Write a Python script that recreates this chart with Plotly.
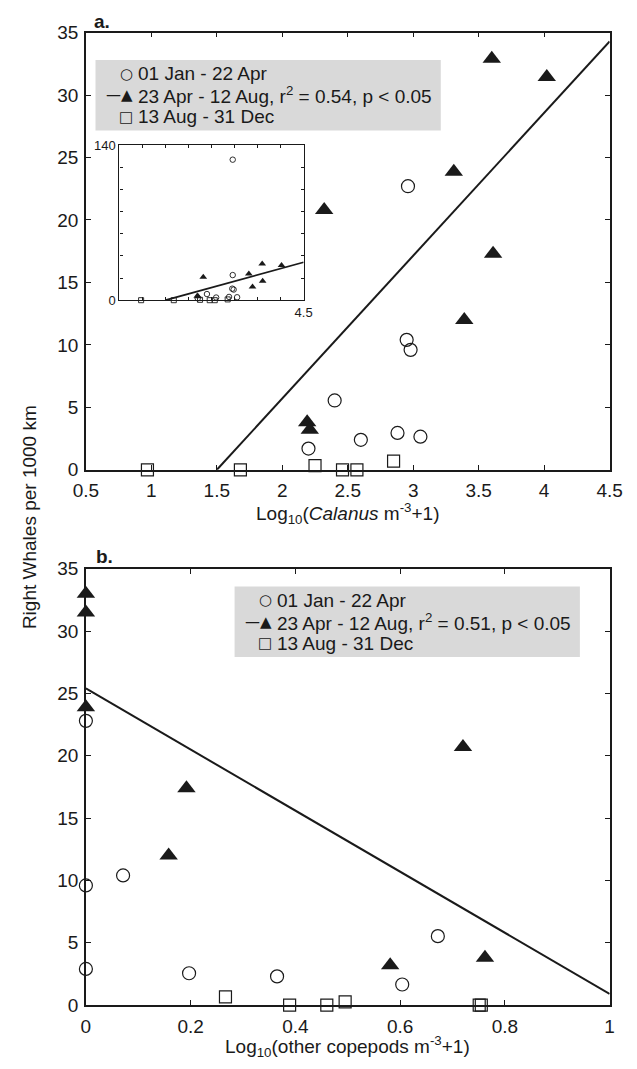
import plotly.graph_objects as go

W, H = 637, 1069

# ---------------- data: panel a (Calanus) ----------------
a_circ_x = [2.96, 2.95, 2.98, 2.40, 2.20, 2.60, 2.88, 3.055]
a_circ_y = [22.7, 10.4, 9.6, 5.55, 1.7, 2.4, 2.95, 2.65]
a_tri_x = [3.60, 4.02, 3.31, 2.32, 3.61, 3.39, 2.19, 2.21]
a_tri_y = [32.9, 31.45, 23.85, 20.8, 17.3, 12.0, 3.8, 3.2]
a_sq_x = [0.97, 1.68, 2.25, 2.46, 2.57, 2.85]
a_sq_y = [0.0, 0.0, 0.34, 0.0, 0.0, 0.7]
a_slope, a_intercept = 11.43, -17.15

# inset includes an off-scale circle
inset_extra_x = [2.96]
inset_extra_y = [127]

# ---------------- data: panel b (other copepods) ----------------
b_circ_x = [0.0, 0.071, 0.0, 0.672, 0.0, 0.197, 0.365, 0.604]
b_circ_y = [22.8, 10.4, 9.6, 5.53, 2.9, 2.55, 2.3, 1.65]
b_tri_x = [0.0, 0.0, 0.0, 0.72, 0.192, 0.158, 0.581, 0.762]
b_tri_y = [33.0, 31.5, 23.9, 20.7, 17.4, 12.0, 3.2, 3.8]
b_sq_x = [0.2665, 0.389, 0.46, 0.495, 0.751, 0.755]
b_sq_y = [0.66, 0.0, 0.0, 0.26, 0.0, 0.0]
b_slope, b_intercept = -24.5, 25.4

a_xticks = [0.5, 1, 1.5, 2, 2.5, 3, 3.5, 4, 4.5]
a_xticklabels = ["0.5", "1", "1.5", "2", "2.5", "3", "3.5", "4", "4.5"]
b_xticks = [0, 0.2, 0.4, 0.6, 0.8, 1]
b_xticklabels = ["0", "0.2", "0.4", "0.6", "0.8", "1"]
y_ticks = [0, 5, 10, 15, 20, 25, 30, 35]
inset_yticks = [0, 20, 40, 60, 80, 100, 120, 140]
inset_yticklabels = ["0", "", "", "", "", "", "", "140"]
inset_xticklabels = ["", "", "", "", "", "", "", "", "4.5"]

legend_a = ["01 Jan - 22 Apr", "23 Apr - 12 Aug, r<sup>2</sup> = 0.54, p < 0.05", "13 Aug - 31 Dec"]
legend_b = ["01 Jan - 22 Apr", "23 Apr - 12 Aug, r<sup>2</sup> = 0.51, p < 0.05", "13 Aug - 31 Dec"]
legend_sym = ["○", "—▲", "□"]

FONT = "Liberation Sans, Arial, sans-serif"
INK = "#1a1a1a"
FS = 19

def px(x):
    return x / W

def py(y):
    return 1 - y / H

fig = go.Figure()

def add_points(xs, ys, xa, ya, scale=1.0):
    lw = 1.2 if scale == 1.0 else 0.9
    fig.add_trace(go.Scatter(x=xs[0], y=ys[0], mode="markers", xaxis=xa, yaxis=ya, cliponaxis=False,
                             marker=dict(symbol="circle-open", size=13 * scale, color=INK, line=dict(width=lw)),
                             showlegend=False))
    fig.add_trace(go.Scatter(x=xs[1], y=ys[1], mode="markers", xaxis=xa, yaxis=ya, cliponaxis=False,
                             marker=dict(symbol="triangle-up", size=16 * scale, color=INK, line=dict(width=0)),
                             showlegend=False))
    fig.add_trace(go.Scatter(x=xs[2], y=ys[2], mode="markers", xaxis=xa, yaxis=ya, cliponaxis=False,
                             marker=dict(symbol="square-open", size=12 * scale, color=INK, line=dict(width=lw)),
                             showlegend=False))

def add_line(slope, intercept, xmax, xa, ya, width=2):
    x0 = -intercept / slope if slope > 0 else 0.0
    x1 = xmax
    fig.add_trace(go.Scatter(x=[x0, x1], y=[slope * x0 + intercept, slope * x1 + intercept], mode="lines",
                             xaxis=xa, yaxis=ya, line=dict(color=INK, width=width), showlegend=False,
                             cliponaxis=True))

# panel a
add_line(a_slope, a_intercept, 4.5, "x", "y")
add_points([a_circ_x, a_tri_x, a_sq_x], [a_circ_y, a_tri_y, a_sq_y], "x", "y")
# panel b
add_line(b_slope, b_intercept, 1.0, "x2", "y2")
add_points([b_circ_x, b_tri_x, b_sq_x], [b_circ_y, b_tri_y, b_sq_y], "x2", "y2")
# inset
add_line(a_slope, a_intercept, 4.5, "x3", "y3", width=1.8)
add_points([a_circ_x + inset_extra_x, a_tri_x, a_sq_x], [a_circ_y + inset_extra_y, a_tri_y, a_sq_y], "x3", "y3", scale=0.42)

axis_common = dict(showgrid=False, zeroline=False, ticks="inside", ticklen=5, tickwidth=1,
                   tickcolor=INK, linecolor=INK, linewidth=1.6, mirror="ticks", showline=True,
                   tickfont=dict(family=FONT, size=FS, color=INK))

fig.update_layout(
    width=W, height=H, margin=dict(l=0, r=0, t=0, b=0),
    paper_bgcolor="white", plot_bgcolor="white", showlegend=False,
    font=dict(family=FONT, color=INK),
    xaxis=dict(domain=[px(76), px(622)], range=[0.5, 4.5], anchor="y", tickvals=a_xticks,
               ticktext=a_xticklabels, ticklabelstandoff=3, **axis_common),
    yaxis=dict(domain=[py(469), py(23)], range=[0, 35], anchor="x", tickvals=y_ticks,
               ticklabelstandoff=2, **axis_common),
    xaxis2=dict(domain=[px(76), px(622)], range=[0, 1], anchor="y2", tickvals=b_xticks,
                ticktext=b_xticklabels, ticklabelstandoff=3, **axis_common),
    yaxis2=dict(domain=[py(1015), py(570)], range=[0, 35], anchor="x2", tickvals=y_ticks,
                ticklabelstandoff=2, **axis_common),
)

inset_common = dict(axis_common)
inset_common.update(ticklen=3, linewidth=1.2, tickfont=dict(family=FONT, size=13, color=INK))
fig.update_layout(
    xaxis3=dict(domain=[px(111), px(303)], range=[0.5, 4.5], anchor="y3", tickvals=a_xticks,
                ticktext=inset_xticklabels, **inset_common),
    yaxis3=dict(domain=[py(296), py(138)], range=[0, 140], anchor="x3", tickvals=inset_yticks,
                ticktext=inset_yticklabels, **inset_common),
)

shapes = []
annotations = []

def legend_block(x0, y0, labels):
    shapes.append(dict(type="rect", xref="paper", yref="paper", x0=px(x0), x1=px(x0 + 360),
                       y0=py(y0 + 72), y1=py(y0), fillcolor="#d9d9d9", line=dict(width=0), layer="below"))
    for i, (sym, lab) in enumerate(zip(legend_sym, labels)):
        yy = y0 + 14 + i * 22
        annotations.append(dict(xref="paper", yref="paper", x=px(x0 + 41), y=py(yy), text=sym,
                                showarrow=False, xanchor="right", yanchor="middle",
                                font=dict(family="DejaVu Sans, " + FONT, size=15, color=INK)))
        annotations.append(dict(xref="paper", yref="paper", x=px(x0 + 42), y=py(yy), text=lab,
                                showarrow=False, xanchor="left", yanchor="middle",
                                font=dict(family=FONT, size=FS, color=INK)))

legend_block(86, 51, legend_a)
legend_block(231, 588, legend_b)

annotations += [
    dict(xref="paper", yref="paper", x=px(82), y=py(12), text="<b>a.</b>", showarrow=False,
         xanchor="left", yanchor="middle", font=dict(family=FONT, size=FS, color=INK)),
    dict(xref="paper", yref="paper", x=px(84), y=py(557), text="<b>b.</b>", showarrow=False,
         xanchor="left", yanchor="middle", font=dict(family=FONT, size=FS, color=INK)),
    dict(xref="paper", yref="paper", x=px(349), y=py(514),
         text="Log<sub>10</sub>(<i>Calanus</i> m<sup>-3</sup>+1)", showarrow=False,
         xanchor="center", yanchor="middle", font=dict(family=FONT, size=FS, color=INK)),
    dict(xref="paper", yref="paper", x=px(349), y=py(1057),
         text="Log<sub>10</sub>(other copepods m<sup>-3</sup>+1)", showarrow=False,
         xanchor="center", yanchor="middle", font=dict(family=FONT, size=FS, color=INK)),
    dict(xref="paper", yref="paper", x=px(18), y=py(517), text="Right Whales per 1000 km",
         textangle=-90, showarrow=False, xanchor="center", yanchor="middle",
         font=dict(family=FONT, size=FS, color=INK)),
]

fig.update_layout(shapes=shapes, annotations=annotations)
fig.write_html("out.html")
